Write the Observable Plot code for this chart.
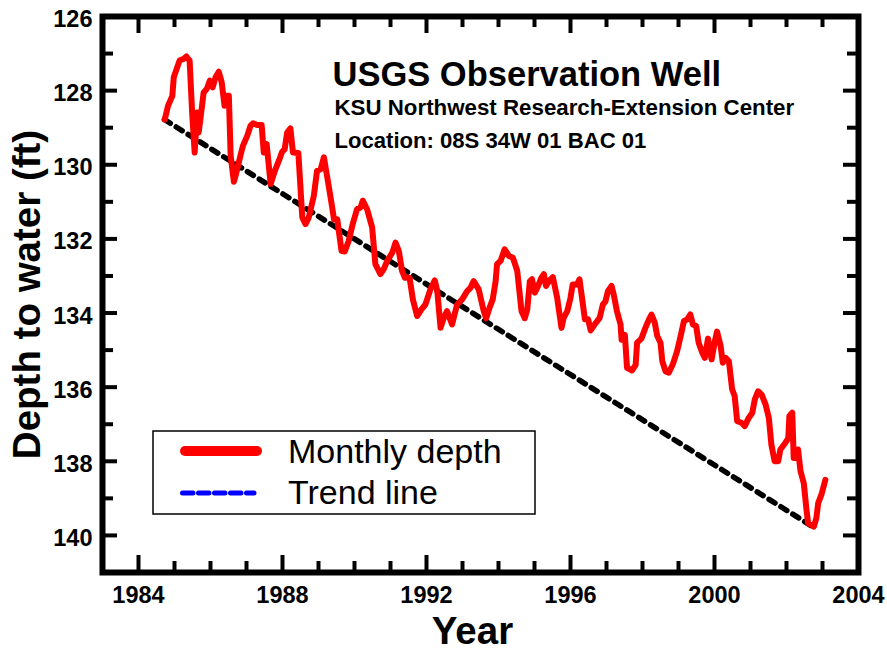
<!DOCTYPE html>
<html><head><meta charset="utf-8">
<script src="https://cdn.jsdelivr.net/npm/d3@7"></script>
<script src="https://cdn.jsdelivr.net/npm/@observablehq/plot@0.6"></script>
<style>
body{margin:0;background:#fff}
#wrap{position:relative;width:887px;height:651px}
#wrap svg{position:absolute;left:0;top:0}
</style>
</head><body><div id="wrap"></div>
<script>
// ---- data ----
const years = [1984.73,1984.82,1984.94,1984.98,1985.14,1985.26,1985.33,1985.42,1985.49,1985.56,1985.63,1985.67,1985.72,1985.81,1985.90,1985.98,1986.06,1986.14,1986.23,1986.31,1986.39,1986.44,1986.51,1986.56,1986.65,1986.72,1986.83,1986.90,1987.02,1987.11,1987.18,1987.30,1987.42,1987.48,1987.56,1987.67,1987.79,1987.90,1987.99,1988.06,1988.13,1988.22,1988.29,1988.44,1988.55,1988.64,1988.73,1988.87,1988.96,1989.06,1989.15,1989.29,1989.38,1989.43,1989.52,1989.64,1989.73,1989.84,1989.95,1990.07,1990.17,1990.23,1990.35,1990.49,1990.58,1990.72,1990.81,1990.91,1991.05,1991.14,1991.23,1991.32,1991.40,1991.53,1991.62,1991.74,1991.86,1991.97,1992.11,1992.23,1992.30,1992.39,1992.48,1992.57,1992.71,1992.85,1992.99,1993.13,1993.22,1993.31,1993.45,1993.59,1993.66,1993.75,1993.84,1993.92,1993.96,1994.06,1994.17,1994.29,1994.40,1994.52,1994.64,1994.73,1994.80,1994.87,1994.93,1995.01,1995.10,1995.19,1995.26,1995.32,1995.40,1995.51,1995.63,1995.75,1995.81,1995.91,1996.00,1996.06,1996.18,1996.25,1996.32,1996.40,1996.49,1996.56,1996.67,1996.81,1996.90,1996.97,1997.04,1997.14,1997.20,1997.29,1997.39,1997.42,1997.51,1997.57,1997.71,1997.81,1997.85,1997.97,1998.08,1998.18,1998.25,1998.34,1998.41,1998.50,1998.55,1998.64,1998.73,1998.84,1998.96,1999.06,1999.15,1999.24,1999.33,1999.40,1999.49,1999.56,1999.66,1999.73,1999.82,1999.92,2000.01,2000.07,2000.17,2000.23,2000.31,2000.40,2000.49,2000.56,2000.63,2000.75,2000.84,2000.95,2001.05,2001.12,2001.21,2001.31,2001.42,2001.51,2001.58,2001.67,2001.77,2001.83,2001.97,2002.05,2002.08,2002.16,2002.20,2002.27,2002.32,2002.39,2002.48,2002.55,2002.60,2002.76,2002.83,2002.88,2002.97,2003.08];
const depths = [128.78,128.41,128.14,127.64,127.19,127.14,127.08,127.19,128.59,129.67,128.59,129.13,128.76,128.05,127.95,127.73,127.91,127.64,127.49,127.77,128.41,128.14,128.14,129.76,130.46,130.21,129.76,129.49,129.22,128.95,128.88,128.93,128.93,129.67,129.44,130.52,130.16,129.89,129.65,129.58,129.13,129.02,129.67,129.68,131.42,131.60,131.42,130.84,130.16,130.12,129.80,130.61,131.15,131.47,131.47,132.32,132.34,132.05,131.60,131.20,131.15,130.97,131.20,131.69,132.68,132.95,132.82,132.59,132.37,132.10,132.32,132.86,133.05,133.05,133.63,134.08,133.90,133.77,133.36,133.12,133.41,134.40,134.13,133.95,134.31,133.77,133.63,133.41,133.32,133.14,133.36,133.95,134.14,133.86,133.63,133.14,132.68,132.59,132.28,132.46,132.51,132.86,133.95,134.14,133.90,133.14,133.09,133.45,133.27,133.05,132.95,133.27,133.14,133.03,133.59,134.40,134.13,133.95,133.59,133.23,133.23,133.09,133.59,134.17,134.17,134.47,134.31,134.13,133.77,133.69,133.41,133.27,133.50,133.95,134.31,134.72,134.59,135.48,135.55,135.40,134.80,134.69,134.40,134.17,134.04,134.26,134.62,134.80,135.30,135.57,135.61,135.39,135.03,134.62,134.22,134.17,134.04,134.31,134.35,134.80,135.07,135.21,134.69,135.25,134.76,134.50,134.89,135.34,135.21,135.30,136.06,136.24,136.92,136.96,137.05,136.83,136.69,136.33,136.11,136.20,136.47,136.83,137.55,138.00,138.00,137.68,137.50,137.37,136.78,136.69,137.91,137.91,137.68,138.27,138.59,139.26,139.67,139.76,139.53,139.13,138.90,138.50];
const trendYears = [1984.72, 2002.72];
const trendDepths = [128.78, 139.76];
const xMajor = [1984, 1988, 1992, 1996, 2000, 2004];
const xMinor = [1985, 1986, 1987, 1989, 1990, 1991, 1993, 1994, 1995, 1997, 1998, 1999, 2001, 2002, 2003];
const yMajor = [126, 128, 130, 132, 134, 136, 138, 140];
const yMinor = [127, 129, 131, 133, 135, 137, 139];
const titleLines = ["USGS Observation Well", "KSU Northwest Research-Extension Center", "Location: 08S 34W 01 BAC 01"];
const xTitle = "Year";
const yTitle = "Depth to water (ft)";
const legendLabels = ["Monthly depth", "Trend line"];

// ---- layout ----
const W = 887, H = 651, mL = 102, mT = 16, mR = 29, mB = 79;
const fw = W - mL - mR, fh = H - mT - mB;
const font = "'Liberation Sans', Arial, Helvetica, sans-serif";
const series = years.map((y, i) => ({year: y, depth: depths[i]}));
const trend = trendYears.map((y, i) => ({year: y, depth: trendDepths[i]}));
const tk = {stroke: "black", strokeWidth: 4};

const chart = Plot.plot({
  width: W, height: H,
  marginLeft: mL, marginTop: mT, marginRight: mR, marginBottom: mB,
  style: {fontFamily: font, background: "white", color: "black", overflow: "visible"},
  x: {domain: [1983, 2004]},
  y: {domain: [126, 141], reverse: true},
  marks: [
    Plot.line(trend, {x: "year", y: "depth", stroke: "black", strokeWidth: 5.5, strokeDasharray: "7,7"}),
    Plot.line(series, {x: "year", y: "depth", stroke: "#ff0000", strokeWidth: 6, strokeLinejoin: "round", strokeLinecap: "round"}),
    Plot.tickX(xMajor, {x: d => d, insetTop: fh - 17, ...tk}),
    Plot.tickX(xMajor, {x: d => d, insetBottom: fh - 17, ...tk}),
    Plot.tickX(xMinor, {x: d => d, insetTop: fh - 11, ...tk}),
    Plot.tickX(xMinor, {x: d => d, insetBottom: fh - 11, ...tk}),
    Plot.tickY(yMajor, {y: d => d, insetRight: fw - 15, ...tk}),
    Plot.tickY(yMajor, {y: d => d, insetLeft: fw - 15, ...tk}),
    Plot.tickY(yMinor, {y: d => d, insetRight: fw - 11, ...tk}),
    Plot.tickY(yMinor, {y: d => d, insetLeft: fw - 11, ...tk}),
    Plot.frame({stroke: "black", strokeWidth: 6}),
    Plot.axisX({ticks: xMajor, tickSize: 0, tickPadding: 14, fontSize: 23.5, fontWeight: "bold", label: null, tickFormat: "d"}),
    Plot.axisY({ticks: yMajor, tickSize: 0, tickPadding: 10, fontSize: 23.5, fontWeight: "bold", label: null, dy: 3, tickFormat: "d"}),
    Plot.text([titleLines[0]], {frameAnchor: "top-left", dx: 332 - mL, dy: 85 - mT, lineAnchor: "bottom", textAnchor: "start", fontSize: 34.5, fontWeight: "bold"}),
    Plot.text([titleLines[1]], {frameAnchor: "top-left", dx: 334 - mL, dy: 114 - mT, lineAnchor: "bottom", textAnchor: "start", fontSize: 22.3, fontWeight: "bold"}),
    Plot.text([titleLines[2]], {frameAnchor: "top-left", dx: 334 - mL, dy: 147 - mT, lineAnchor: "bottom", textAnchor: "start", fontSize: 22.1, fontWeight: "bold"}),
    Plot.text([xTitle], {frameAnchor: "bottom", dx: 472 - (mL + fw / 2), dy: 643 - (H - mB), lineAnchor: "bottom", textAnchor: "middle", fontSize: 38.5, fontWeight: "bold"}),
    Plot.text([yTitle], {frameAnchor: "left", dx: 39 - mL, rotate: -90, lineAnchor: "bottom", textAnchor: "middle", fontSize: 38.5, fontWeight: "bold"})
  ]
});
document.getElementById("wrap").appendChild(chart);

// ---- legend ----
const lg = d3.create("svg").attr("width", W).attr("height", H).style("pointer-events", "none");
lg.append("rect").attr("x", 153).attr("y", 431).attr("width", 382).attr("height", 83)
  .attr("fill", "white").attr("stroke", "black").attr("stroke-width", 1.5);
lg.append("line").attr("x1", 185).attr("x2", 257).attr("y1", 451).attr("y2", 451)
  .attr("stroke", "#ff0000").attr("stroke-width", 10).attr("stroke-linecap", "round");
lg.append("line").attr("x1", 182.5).attr("x2", 254).attr("y1", 493).attr("y2", 493)
  .attr("stroke", "#0000ff").attr("stroke-width", 5).attr("stroke-linecap", "round").attr("stroke-dasharray", "10.5,5.5");
lg.append("text").attr("x", 288).attr("y", 463).attr("font-family", font).attr("font-size", 34).text(legendLabels[0]);
lg.append("text").attr("x", 288).attr("y", 504).attr("font-family", font).attr("font-size", 34).text(legendLabels[1]);
document.getElementById("wrap").appendChild(lg.node());
</script>
</body></html>
